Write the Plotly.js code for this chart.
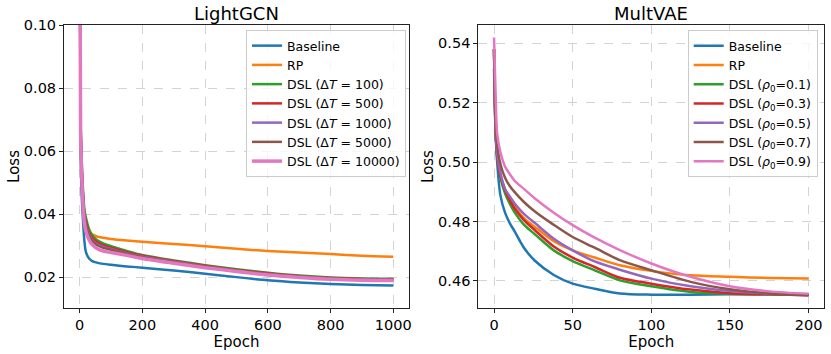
<!DOCTYPE html>
<html>
<head>
<meta charset="utf-8">
<script src="https://cdn.plot.ly/plotly-3.0.1.min.js"></script>
<style>
  html, body { margin: 0; padding: 0; background: #fff; }
  #chart { width: 831px; height: 354px; }
</style>
</head>
<body>
<div id="chart"></div>
<script>
// LightGCN panel (epochs 0..1000)
const gcnEpochs = [0, 3, 6, 10, 15, 20, 30, 40, 55, 75, 100, 150, 200, 300, 400, 500, 600, 700, 800, 900, 1000];
const gcnBaseline = [0.14, 0.060, 0.047, 0.039, 0.0315, 0.0279, 0.0259, 0.0251, 0.0246, 0.0242, 0.0239, 0.0234, 0.0230, 0.0221, 0.0211, 0.0200, 0.0190, 0.0183, 0.0178, 0.0175, 0.0173];
const gcnRP = [0.14, 0.068, 0.056, 0.047, 0.040, 0.0375, 0.0345, 0.0336, 0.0329, 0.0325, 0.0321, 0.0316, 0.0312, 0.0305, 0.0298, 0.0290, 0.0283, 0.0278, 0.0273, 0.0268, 0.0265];
const gcnDT100 = [0.14, 0.070, 0.058, 0.049, 0.0415, 0.0388, 0.0352, 0.0333, 0.0318, 0.0307, 0.0298, 0.0283, 0.0270, 0.0253, 0.0238, 0.0225, 0.0214, 0.0205, 0.0199, 0.0196, 0.0195];
const gcnDT500 = [0.14, 0.068, 0.056, 0.047, 0.040, 0.0375, 0.0342, 0.0324, 0.0311, 0.0301, 0.0293, 0.0279, 0.0268, 0.0251, 0.0236, 0.0223, 0.0212, 0.0203, 0.0197, 0.0194, 0.0193];
const gcnDT1000 = [0.14, 0.067, 0.055, 0.046, 0.039, 0.0365, 0.0335, 0.0318, 0.0305, 0.0296, 0.0289, 0.0276, 0.0265, 0.0249, 0.0234, 0.0221, 0.0210, 0.0202, 0.0196, 0.0193, 0.0192];
const gcnDT5000 = [0.14, 0.067, 0.055, 0.0455, 0.0385, 0.036, 0.0331, 0.0314, 0.0302, 0.0293, 0.0287, 0.0274, 0.0263, 0.0247, 0.0233, 0.0220, 0.0209, 0.0201, 0.0195, 0.0192, 0.0191];
const gcnDT10000 = [0.14, 0.066, 0.054, 0.044, 0.037, 0.0345, 0.0318, 0.0303, 0.0291, 0.0283, 0.0278, 0.0269, 0.0259, 0.0244, 0.0230, 0.0218, 0.0207, 0.0199, 0.0193, 0.0190, 0.0189];

// MultVAE panel (epochs 0..200)
const vaeEpochs = [0, 1, 2, 4, 7, 10, 13, 19, 26, 38, 50, 64, 80, 100, 125, 150, 175, 200];
const vaeBaseline = [0.5315, 0.510, 0.500, 0.4890, 0.4830, 0.4795, 0.4768, 0.4712, 0.4668, 0.4620, 0.4591, 0.4574, 0.4558, 0.4554, 0.4554, 0.4555, 0.4555, 0.4555];
const vaeRP = [0.538, 0.512, 0.503, 0.4960, 0.4908, 0.4878, 0.4852, 0.4812, 0.4782, 0.4734, 0.4703, 0.4679, 0.4653, 0.4634, 0.4619, 0.4614, 0.4610, 0.4608];
const vaeRho01 = [0.538, 0.511, 0.502, 0.4950, 0.4895, 0.4860, 0.4832, 0.4790, 0.4757, 0.4703, 0.4667, 0.4636, 0.4602, 0.4582, 0.4563, 0.4557, 0.4555, 0.4554];
const vaeRho03 = [0.538, 0.511, 0.502, 0.4955, 0.4905, 0.4872, 0.4845, 0.4805, 0.4771, 0.4716, 0.4679, 0.4647, 0.4611, 0.4591, 0.4571, 0.4559, 0.4555, 0.4553];
const vaeRho05 = [0.538, 0.512, 0.503, 0.4965, 0.4910, 0.4885, 0.4862, 0.4826, 0.4795, 0.4742, 0.4703, 0.4666, 0.4638, 0.4608, 0.4582, 0.4566, 0.4558, 0.4555];
const vaeRho07 = [0.538, 0.514, 0.506, 0.4995, 0.4948, 0.4920, 0.4900, 0.4866, 0.4834, 0.4789, 0.4748, 0.4712, 0.4670, 0.4636, 0.4597, 0.4572, 0.4558, 0.4551];
const vaeRho09 = [0.542, 0.523, 0.5096, 0.5035, 0.4985, 0.4960, 0.4938, 0.4910, 0.4878, 0.4830, 0.4788, 0.4746, 0.4704, 0.4659, 0.4614, 0.4582, 0.4565, 0.4557];

const gcnNames = ['Baseline', 'RP', 'DSL (Δ<i>T</i> = 100)', 'DSL (Δ<i>T</i> = 500)', 'DSL (Δ<i>T</i> = 1000)', 'DSL (Δ<i>T</i> = 5000)', 'DSL (Δ<i>T</i> = 10000)'];
const vaeNames = ['Baseline', 'RP', 'DSL (<i>ρ</i><sub>0</sub>=0.1)', 'DSL (<i>ρ</i><sub>0</sub>=0.3)', 'DSL (<i>ρ</i><sub>0</sub>=0.5)', 'DSL (<i>ρ</i><sub>0</sub>=0.7)', 'DSL (<i>ρ</i><sub>0</sub>=0.9)'];
const colors = ['#1f77b4', '#ff7f0e', '#2ca02c', '#d62728', '#9467bd', '#8c564b', '#e377c2'];

const gcnSeries = [gcnBaseline, gcnRP, gcnDT100, gcnDT500, gcnDT1000, gcnDT5000, gcnDT10000];
const vaeSeries = [vaeBaseline, vaeRP, vaeRho01, vaeRho03, vaeRho05, vaeRho07, vaeRho09];

const traces = [];
gcnSeries.forEach((ys, i) => {
    traces.push({
        type: 'scatter', mode: 'lines', x: gcnEpochs, y: ys, name: gcnNames[i],
        xaxis: 'x', yaxis: 'y', legend: 'legend',
        line: { color: colors[i], width: i === 6 ? 3.5 : 2.5, shape: 'spline', smoothing: 0.8 }
    });
});
vaeSeries.forEach((ys, i) => {
    traces.push({
        type: 'scatter', mode: 'lines', x: vaeEpochs, y: ys, name: vaeNames[i],
        xaxis: 'x2', yaxis: 'y2', legend: 'legend2',
        line: { color: colors[i], width: 2.5, shape: 'spline', smoothing: 0.8 }
    });
});

const font = { family: 'DejaVu Sans', color: '#000' };
const axisBase = {
    showline: true, mirror: true, linecolor: '#222', linewidth: 1,
    ticks: 'outside', ticklen: 4, tickwidth: 1, tickcolor: '#222',
    showgrid: true, gridcolor: '#c8c8c8', griddash: 'dash', gridwidth: 0.8,
    zeroline: false, tickfont: { family: 'DejaVu Sans', size: 14.5, color: '#000' }
};
const axTitle = (t, standoff) => ({ text: t, font: { family: 'DejaVu Sans', size: 15, color: '#000' }, standoff: standoff });

const W = 831, H = 354;
const legendBase = {
    bgcolor: 'rgba(255,255,255,0.8)', bordercolor: '#cccccc', borderwidth: 1,
    font: { family: 'DejaVu Sans', size: 12.5, color: '#000' },
    xanchor: 'left', yanchor: 'top', tracegroupgap: 0
};

const layout = {
    width: W, height: H,
    margin: { l: 0, r: 0, t: 0, b: 0 },
    paper_bgcolor: '#fff', plot_bgcolor: '#fff',
    font: font,
    showlegend: true,
    xaxis: Object.assign({}, axisBase, {
        domain: [64 / W, 409 / W], range: [-50, 1050], tickvals: [0, 200, 400, 600, 800, 1000],
        title: axTitle('Epoch', 2), anchor: 'y'
    }),
    yaxis: Object.assign({}, axisBase, {
        domain: [1 - 308 / H, 1 - 25 / H], range: [0.0102, 0.10], tickvals: [0.02, 0.04, 0.06, 0.08, 0.10],
        tickformat: '.2f', title: axTitle('Loss', 0), anchor: 'x'
    }),
    xaxis2: Object.assign({}, axisBase, {
        domain: [478.3 / W, 824.3 / W], range: [-10, 210], tickvals: [0, 50, 100, 150, 200],
        title: axTitle('Epoch', 2), anchor: 'y2'
    }),
    yaxis2: Object.assign({}, axisBase, {
        domain: [1 - 308 / H, 1 - 25 / H], range: [0.4509, 0.5462], tickvals: [0.46, 0.48, 0.50, 0.52, 0.54],
        tickformat: '.2f', title: axTitle('Loss', 0), anchor: 'x2'
    }),
    legend: Object.assign({}, legendBase, { x: 246 / W, y: 1 - 30 / H }),
    legend2: Object.assign({}, legendBase, { x: 687.7 / W, y: 1 - 30 / H }),
    annotations: [
        { text: 'LightGCN', xref: 'paper', yref: 'paper', x: 236.5 / W, y: 1 - 14 / H, xanchor: 'center', yanchor: 'middle', showarrow: false, font: { family: 'DejaVu Sans', size: 18, color: '#000' } },
        { text: 'MultVAE', xref: 'paper', yref: 'paper', x: 651.3 / W, y: 1 - 14 / H, xanchor: 'center', yanchor: 'middle', showarrow: false, font: { family: 'DejaVu Sans', size: 18, color: '#000' } }
    ]
};

Plotly.newPlot('chart', traces, layout, { displayModeBar: false, staticPlot: true });
</script>
</body>
</html>
